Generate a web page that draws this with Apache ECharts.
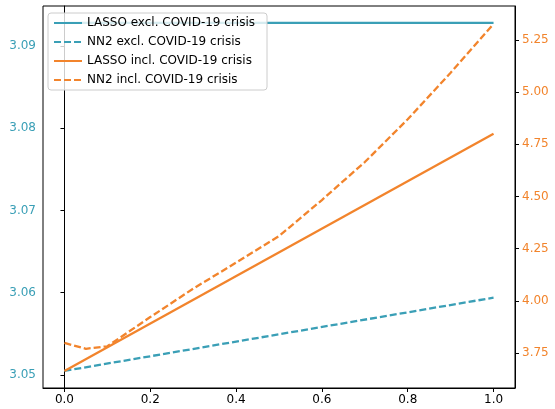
<!DOCTYPE html>
<html>
<head>
<meta charset="utf-8">
<script src="https://cdn.jsdelivr.net/npm/echarts@6/dist/echarts.min.js"></script>
<style>
  html, body { margin: 0; padding: 0; background: #fff; }
  #chart { width: 555px; height: 409px; }
</style>
</head>
<body>
<div id="chart"></div>
<script>
// tick labels
const xTicks = [0, 0.2, 0.4, 0.6, 0.8, 1.0];
const leftTicks = [3.05, 3.06, 3.07, 3.08, 3.09];
const rightTicks = [3.75, 4.0, 4.25, 4.5, 4.75, 5.0, 5.25];

// left axis series (excl. COVID-19 crisis)
const lassoExclX = [0, 1];
const lassoExclY = [3.0928, 3.0928];
const nn2ExclX = [0, 1];
const nn2ExclY = [3.0505, 3.0594];

// right axis series (incl. COVID-19 crisis)
const lassoInclX = [0, 1];
const lassoInclY = [3.664, 4.801];
const nn2InclX = [0, 0.05, 0.1, 0.2, 0.3, 0.4, 0.5, 0.6, 0.7, 0.8, 0.9, 1.0];
const nn2InclY = [3.798, 3.770, 3.782, 3.922, 4.058, 4.183, 4.310, 4.483, 4.665, 4.870, 5.093, 5.327];

const teal = '#3a9fb6';
const orange = '#f2842c';
const font = 'DejaVu Sans';

const pairs = (xs, ys) => xs.map((x, i) => [x, ys[i]]);

const chart = echarts.init(document.getElementById('chart'));

const lineSeries = (name, xs, ys, color, dashed, axis) => ({
  name,
  type: 'line',
  yAxisIndex: axis,
  data: pairs(xs, ys),
  showSymbol: false,
  symbol: 'none',
  lineStyle: { color, width: 2.3, type: dashed ? [7, 3] : 'solid' },
  itemStyle: { color },
});

chart.setOption({
  animation: false,
  grid: {
    left: 43, right: 40, top: 6, bottom: 21,
    show: true, borderColor: '#000', borderWidth: 1,
  },
  legend: {
    orient: 'vertical',
    left: 48, top: 13,
    itemWidth: 28, itemHeight: 10, itemGap: 7,
    padding: [4, 12, 4, 5],
    backgroundColor: 'rgba(255,255,255,0.8)',
    borderColor: '#cccccc', borderWidth: 1, borderRadius: 3,
    itemStyle: { opacity: 0 },
    textStyle: { fontFamily: font, fontSize: 12, color: '#000' },
    data: [
      'LASSO excl. COVID-19 crisis',
      'NN2 excl. COVID-19 crisis',
      'LASSO incl. COVID-19 crisis',
      'NN2 incl. COVID-19 crisis',
    ],
  },
  xAxis: {
    type: 'value',
    min: -0.05, max: 1.05,
    splitLine: { show: false },
    axisLine: { onZero: false, lineStyle: { color: '#000' } },
    axisTick: { length: 4, lineStyle: { color: '#000' }, customValues: xTicks },
    axisLabel: {
      customValues: xTicks, margin: 6,
      fontFamily: font, fontSize: 12, color: '#000',
      formatter: v => v.toFixed(1),
    },
  },
  yAxis: [
    {
      type: 'value',
      position: 'left',
      min: 3.04842, max: 3.09486,
      splitLine: { show: false },
      axisLine: { show: true, lineStyle: { color: '#000' } },
      axisTick: { show: true, length: 4, lineStyle: { color: '#000' }, customValues: leftTicks },
      axisLabel: {
        customValues: leftTicks, margin: 7,
        fontFamily: font, fontSize: 12, color: teal,
        formatter: v => v.toFixed(2),
      },
    },
    {
      type: 'value',
      position: 'right',
      min: 3.582, max: 5.413,
      splitLine: { show: false },
      axisLine: { show: true, lineStyle: { color: '#000' } },
      axisTick: { show: true, length: 4, lineStyle: { color: '#000' }, customValues: rightTicks },
      axisLabel: {
        customValues: rightTicks, margin: 7,
        fontFamily: font, fontSize: 12, color: orange,
        formatter: v => v.toFixed(2),
      },
    },
  ],
  series: [
    lineSeries('LASSO excl. COVID-19 crisis', lassoExclX, lassoExclY, teal, false, 0),
    lineSeries('NN2 excl. COVID-19 crisis', nn2ExclX, nn2ExclY, teal, true, 0),
    lineSeries('LASSO incl. COVID-19 crisis', lassoInclX, lassoInclY, orange, false, 1),
    lineSeries('NN2 incl. COVID-19 crisis', nn2InclX, nn2InclY, orange, true, 1),
  ],
});
</script>
</body>
</html>
